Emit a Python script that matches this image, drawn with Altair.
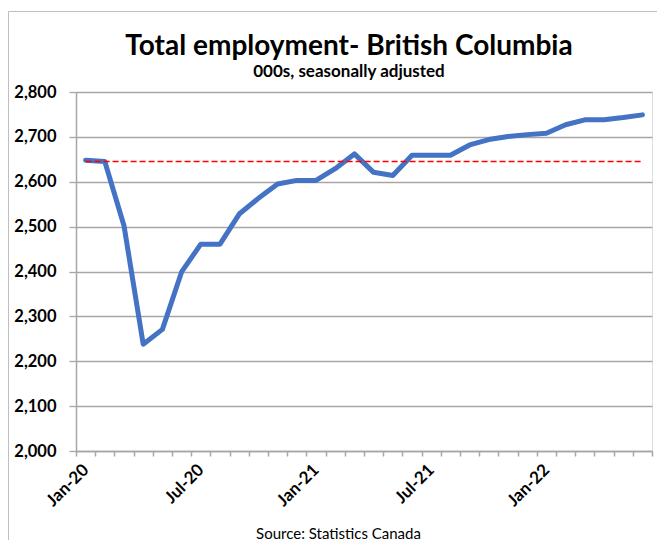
import altair as alt
import pandas as pd

months = ["Jan-20", "Feb-20", "Mar-20", "Apr-20", "May-20", "Jun-20",
          "Jul-20", "Aug-20", "Sep-20", "Oct-20", "Nov-20", "Dec-20",
          "Jan-21", "Feb-21", "Mar-21", "Apr-21", "May-21", "Jun-21",
          "Jul-21", "Aug-21", "Sep-21", "Oct-21", "Nov-21", "Dec-21",
          "Jan-22", "Feb-22", "Mar-22", "Apr-22", "May-22", "Jun-22"]
employment = [2648, 2645, 2502, 2238, 2271, 2399, 2461, 2461, 2528, 2563,
              2595, 2603, 2603, 2629, 2662, 2621, 2614, 2659, 2659, 2659,
              2682, 2694, 2701, 2705, 2708, 2727, 2738, 2738, 2743, 2749]
pre_pandemic = 2645
y_ticks = [2000, 2100, 2200, 2300, 2400, 2500, 2600, 2700, 2800]
label_months = ["Jan-20", "Jul-20", "Jan-21", "Jul-21", "Jan-22"]

df = pd.DataFrame({"month": months, "value": employment})
ref = pd.DataFrame({"month": months, "value": [pre_pandemic] * len(months)})

FONT = "Lato"
GRAY = "#A6A6A6"
label_list = "[" + ",".join("'" + m + "'" for m in label_months) + "]"

x_axis = alt.Axis(
    title="Source: Statistics Canada",
    titleFont=FONT, titleFontWeight="normal", titleFontSize=15,
    titleColor="black", titleAlign="center", titleBaseline="alphabetic",
    titleX=262, titleY=87, titleAngle=0,
    labelExpr="indexof(" + label_list + ", datum.value) >= 0 ? datum.value : ''",
    labelAngle=315, labelAlign="right", labelBaseline="middle",
    labelOverlap=False, labelFont=FONT, labelFontWeight="bold",
    labelFontSize=17, labelColor="black", labelPadding=11,
    tickBand="extent", ticks=True, tickSize=5, tickColor=GRAY, tickWidth=1.5,
    domainColor=GRAY, domainWidth=1.5, grid=False,
)
y_axis = alt.Axis(
    title=None, values=y_ticks, format=",.0f",
    labelFont=FONT, labelFontWeight="bold", labelFontSize=16.5,
    labelColor="black", labelPadding=13,
    grid=True, gridColor=GRAY, gridWidth=1.3,
    tickSize=7, tickColor=GRAY, tickWidth=1.3,
    domainColor=GRAY, domainWidth=1.5,
)
x_scale = alt.Scale(type="band", paddingInner=0, paddingOuter=0)
y_scale = alt.Scale(domain=[2000, 2800], nice=False, zero=False)

def x_enc():
    return alt.X("month:N", sort=months, bandPosition=0.5, scale=x_scale, axis=x_axis)

def y_enc():
    return alt.Y("value:Q", scale=y_scale, axis=y_axis)

line = alt.Chart(df).mark_line(
    color="#4472C4", strokeWidth=5, strokeCap="round", strokeJoin="round"
).encode(x=x_enc(), y=y_enc())

refline = alt.Chart(ref).mark_line(
    color="#FF0000", strokeWidth=1.5, strokeDash=[6, 3]
).encode(x=x_enc(), y=y_enc())

frame = alt.Chart(alt.Data(values=[{}])).mark_rect(
    fill=None, stroke="#BFBFBF", strokeWidth=1
).encode(
    x=alt.value(-67.5), x2=alt.value(700),
    y=alt.value(-80.5), y2=alt.value(700),
)

chart = alt.layer(frame, line, refline).properties(
    width=576, height=359,
    autosize=alt.AutoSizeParams(type="none"),
    padding={"left": 68, "top": 84, "right": 5, "bottom": 89},
    title=alt.TitleParams(
        text="Total employment- British Columbia",
        subtitle="000s, seasonally adjusted",
        font=FONT, fontWeight="bold", fontSize=28, color="black",
        subtitleFont=FONT, subtitleFontWeight="bold", subtitleFontSize=17,
        subtitleColor="black", subtitlePadding=3,
        anchor="middle", dx=-15, offset=-69,
    ),
).configure_view(strokeOpacity=0).configure(background="white")

chart.save("out.html", embed_options={"renderer": "svg", "actions": False})
